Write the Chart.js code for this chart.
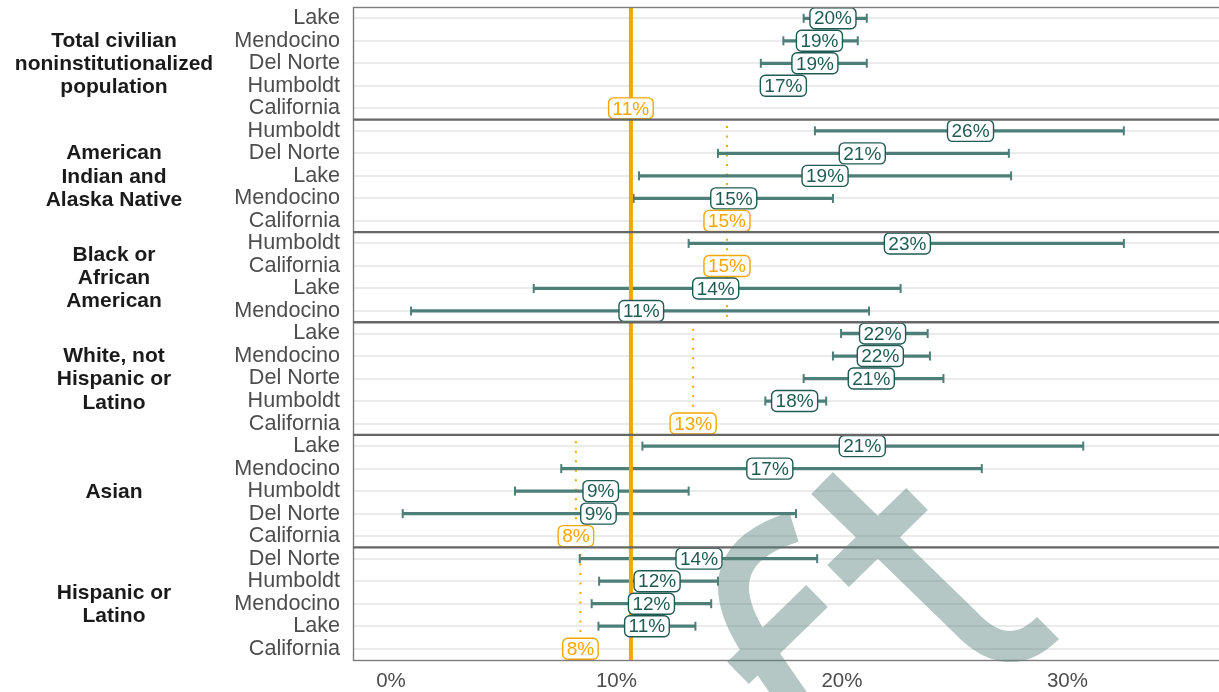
<!DOCTYPE html>
<html>
<head>
<meta charset="utf-8">
<script src="https://cdn.jsdelivr.net/npm/chart.js@4.4.1/dist/chart.umd.min.js"></script>
<style>
  html, body { margin: 0; padding: 0; background: #ffffff; }
  #wrap { width: 1219px; height: 692px; }
</style>
</head>
<body>
<div id="wrap"><canvas id="chart" width="1219" height="692"></canvas></div>
<script>
// Share of population with a disability, by race/ethnicity and county (estimate with margin of error)
const groupTitles = [
  ['Total civilian', 'noninstitutionalized', 'population'],
  ['American', 'Indian and', 'Alaska Native'],
  ['Black or', 'African', 'American'],
  ['White, not', 'Hispanic or', 'Latino'],
  ['Asian'],
  ['Hispanic or', 'Latino']
];

const totalCounties = ['Lake', 'Mendocino', 'Del Norte', 'Humboldt', 'California'];
const totalEstimate = [19.6, 19.0, 18.8, 17.4, 10.64];
const totalLower    = [18.3, 17.4, 16.4, 16.9, null];
const totalUpper    = [21.1, 20.7, 21.1, 17.9, null];

const aianCounties = ['Humboldt', 'Del Norte', 'Lake', 'Mendocino', 'California'];
const aianEstimate = [25.7, 20.9, 19.25, 15.2, 14.9];
const aianLower    = [18.8, 14.5, 11.0, 10.76, null];
const aianUpper    = [32.5, 27.4, 27.5, 19.6, null];

const blackCounties = ['Humboldt', 'California', 'Lake', 'Mendocino'];
const blackEstimate = [22.9, 14.9, 14.4, 11.1];
const blackLower    = [13.2, null, 6.33, 0.89];
const blackUpper    = [32.5, null, 22.6, 21.2];

const whiteCounties = ['Lake', 'Mendocino', 'Del Norte', 'Humboldt', 'California'];
const whiteEstimate = [21.8, 21.7, 21.3, 17.9, 13.4];
const whiteLower    = [19.96, 19.6, 18.3, 16.6, null];
const whiteUpper    = [23.8, 23.9, 24.5, 19.3, null];

const asianCounties = ['Lake', 'Mendocino', 'Humboldt', 'Del Norte', 'California'];
const asianEstimate = [20.9, 16.8, 9.3, 9.2, 8.2];
const asianLower    = [11.15, 7.55, 5.5, 0.52, null];
const asianUpper    = [30.7, 26.2, 13.2, 17.96, null];

const hispCounties = ['Del Norte', 'Humboldt', 'Mendocino', 'Lake', 'California'];
const hispEstimate = [13.66, 11.8, 11.55, 11.35, 8.4];
const hispLower    = [8.37, 9.23, 8.9, 9.2, null];
const hispUpper    = [18.9, 14.5, 14.2, 13.5, null];

const xTickValues = [0, 10, 20, 30];

// ---- assemble rows (one per county line, top to bottom) ----
const panelSources = [
  [totalCounties, totalEstimate, totalLower, totalUpper],
  [aianCounties, aianEstimate, aianLower, aianUpper],
  [blackCounties, blackEstimate, blackLower, blackUpper],
  [whiteCounties, whiteEstimate, whiteLower, whiteUpper],
  [asianCounties, asianEstimate, asianLower, asianUpper],
  [hispCounties, hispEstimate, hispLower, hispUpper]
];

const rows = [];
const panels = [];
panelSources.forEach(([counties, est, lo, hi], p) => {
  const start = rows.length;
  counties.forEach((c, i) => {
    rows.push({ label: c, est: est[i], lo: lo[i], hi: hi[i], state: c === 'California', panel: p });
  });
  const calIdx = counties.indexOf('California');
  panels.push({ title: groupTitles[p], start, end: rows.length - 1, stateValue: est[calIdx] });
});

const stateTotal = panels[0].stateValue;

const TEAL = '#4d7f78';
const TEAL_DARK = '#1f5b53';
const ORANGE = '#f4a700';

// ---- datasets ----
const errorRows = rows.map((r, i) => ({ r, i })).filter(o => o.r.lo !== null);

const datasets = [];

// whisker lines as floating horizontal bars
datasets.push({
  type: 'bar',
  label: 'range',
  data: errorRows.map(o => ({ x: [o.r.lo, o.r.hi], y: o.i })),
  backgroundColor: TEAL,
  borderWidth: 0,
  barThickness: 2.6,
  order: 5
});

// whisker end caps
datasets.push({
  type: 'scatter',
  label: 'caps',
  data: errorRows.flatMap(o => [{ x: o.r.lo, y: o.i }, { x: o.r.hi, y: o.i }]),
  pointStyle: 'line',
  rotation: 90,
  radius: 4.5,
  borderColor: TEAL,
  borderWidth: 2,
  order: 4
});

// statewide reference (all people) across every panel
datasets.push({
  type: 'line',
  label: 'state total',
  data: [{ x: stateTotal, y: -0.5 }, { x: stateTotal, y: rows.length - 0.5 }],
  borderColor: ORANGE,
  borderWidth: 4,
  pointRadius: 0,
  order: 1
});

// statewide value within each group, dotted
panels.slice(1).forEach((p) => {
  datasets.push({
    type: 'line',
    label: 'state group',
    data: [{ x: p.stateValue, y: p.start - 0.5 }, { x: p.stateValue, y: p.end + 0.5 }],
    borderColor: ORANGE,
    borderWidth: 2,
    borderDash: [2, 7.5],
    borderDashOffset: 3,
    pointRadius: 0,
    order: 6
  });
});

// ---- plugins ----
const valueLabels = {
  id: 'valueLabels',
  afterDatasetsDraw(chart) {
    const { ctx, scales: { x, y } } = chart;
    ctx.save();
    ctx.font = '19px "Liberation Sans", Arial, sans-serif';
    ctx.textAlign = 'center';
    ctx.textBaseline = 'middle';
    rows.forEach((r, i) => {
      const px = x.getPixelForValue(r.est);
      const py = y.getPixelForValue(i);
      const text = Math.round(r.est) + '%';
      const tw = ctx.measureText(text).width;
      const w = tw + 8, h = 21;
      const col = r.state ? ORANGE : TEAL_DARK;
      ctx.beginPath();
      ctx.roundRect(px - w / 2, py - h / 2, w, h, 5);
      ctx.fillStyle = '#ffffff';
      ctx.fill();
      ctx.lineWidth = 1.4;
      ctx.strokeStyle = col;
      ctx.stroke();
      ctx.fillStyle = col;
      ctx.fillText(text, px, py + 1);
    });
    ctx.restore();
  }
};

const panelFrame = {
  id: 'panelFrame',
  afterDraw(chart) {
    const { ctx, chartArea: a, scales: { y } } = chart;
    ctx.save();
    // outer frame
    ctx.strokeStyle = '#7c7c7c';
    ctx.lineWidth = 1.4;
    ctx.strokeRect(a.left + 0.5, a.top + 0.5, a.right - a.left + 2, a.bottom - a.top);
    // separators between groups
    ctx.strokeStyle = '#666666';
    ctx.lineWidth = 2.4;
    panels.slice(0, -1).forEach(p => {
      const py = y.getPixelForValue(p.end + 0.5);
      ctx.beginPath();
      ctx.moveTo(a.left, py);
      ctx.lineTo(a.right + 2, py);
      ctx.stroke();
    });
    // group titles
    ctx.fillStyle = '#1a1a1a';
    ctx.font = 'bold 21px "Liberation Sans", Arial, sans-serif';
    ctx.textAlign = 'center';
    ctx.textBaseline = 'middle';
    const lh = 23.2;
    panels.forEach(p => {
      const cy = (y.getPixelForValue(p.start - 0.5) + y.getPixelForValue(p.end + 0.5)) / 2;
      const n = p.title.length;
      p.title.forEach((line, k) => {
        ctx.fillText(line, 114, cy + (k - (n - 1) / 2) * lh + 1);
      });
    });
    ctx.restore();

    // translucent monogram in the lower right
    const off = document.createElement('canvas');
    off.width = chart.width; off.height = chart.height;
    const o = off.getContext('2d');
    o.strokeStyle = 'rgb(90,131,124)';
    o.lineWidth = 31;
    o.lineCap = 'butt';
    o.lineJoin = 'round';
    // f: hooked stem
    o.beginPath();
    o.moveTo(794, 527);
    o.quadraticCurveTo(700, 556, 752, 640);
    o.lineTo(835, 760);
    o.stroke();
    // f: cross stroke
    o.beginPath();
    o.moveTo(738, 673);
    o.lineTo(817, 596);
    o.stroke();
    // t: stem with tail
    o.beginPath();
    o.moveTo(822, 483);
    o.lineTo(965, 622);
    o.quadraticCurveTo(1008, 668, 1048, 628);
    o.stroke();
    // t: cross stroke
    o.beginPath();
    o.moveTo(838, 576);
    o.lineTo(917, 499);
    o.stroke();
    ctx.save();
    ctx.globalAlpha = 0.45;
    ctx.drawImage(off, 0, 0);
    ctx.restore();
  }
};

Chart.defaults.font.family = '"Liberation Sans", Arial, sans-serif';

new Chart(document.getElementById('chart'), {
  type: 'bar',
  data: { datasets },
  options: {
    indexAxis: 'y',
    responsive: false,
    devicePixelRatio: 1,
    animation: false,
    layout: { autoPadding: false, padding: { top: 7, right: 0, left: 0, bottom: 0 } },
    plugins: { legend: { display: false }, tooltip: { enabled: false } },
    scales: {
      x: {
        type: 'linear',
        position: 'bottom',
        offset: false,
        min: -1.685,
        max: 36.72,
        grid: { display: false },
        border: { display: false },
        afterBuildTicks(scale) { scale.ticks = xTickValues.map(v => ({ value: v })); },
        afterFit(scale) {
          scale.height = 32;
          scale.paddingLeft = 0; scale.paddingRight = 0;
        },
        ticks: {
          color: '#4d4d4d',
          font: { size: 20.5 },
          padding: 1,
          maxRotation: 0,
          callback: v => v + '%'
        }
      },
      y: {
        type: 'linear',
        position: 'left',
        reverse: true,
        offset: false,
        min: -0.5,
        max: rows.length - 0.5,
        grid: { color: '#ebebeb', lineWidth: 2, drawTicks: false, offset: false },
        border: { display: false },
        afterBuildTicks(scale) { scale.ticks = rows.map((r, i) => ({ value: i })); },
        afterFit(scale) {
          scale.width = 353;
          scale.paddingTop = 0; scale.paddingBottom = 0;
        },
        ticks: {
          color: '#4d4d4d',
          font: { size: 21.6 },
          padding: 13,
          autoSkip: false,
          callback: v => (rows[v] ? rows[v].label : '')
        }
      }
    }
  },
  plugins: [valueLabels, panelFrame]
});
</script>
</body>
</html>
